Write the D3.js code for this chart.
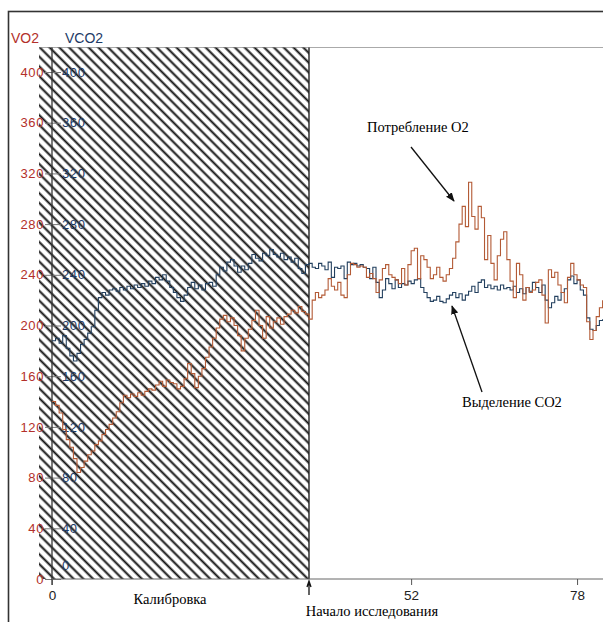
<!DOCTYPE html>
<html>
<head>
<meta charset="utf-8">
<script src="https://cdn.jsdelivr.net/npm/d3@7"></script>
<style>
  body { margin: 0; background: #fff; }
  text { font-family: "Liberation Sans", Arial, sans-serif; }
  .serif { font-family: "Liberation Serif", "Times New Roman", serif; }
</style>
</head>
<body>
<div id="chart"></div>
<script>
// sample step of the recording (minutes)
const step = 0.5;
const yTicks = [0, 40, 80, 120, 160, 200, 240, 280, 320, 360, 400];
const xTicks = [0, 52, 78];
const studyStart = 36;

// VO2, from 0 to 82 every 0.5
const vo2 = [
  140,137,131,118,110,104,95,84,88,93,
  98,101,106,109,114,118,122,127,132,139,
  145,143,146,144,147,145,148,150,149,153,
  156,152,157,155,154,150,152,158,170,162,
  151,160,166,175,183,190,198,205,208,203,
  206,200,192,180,190,197,204,212,200,190,
  207,198,203,206,201,207,209,212,210,215,
  211,209,205,
  220,226,222,224,228,237,231,228,234,224,
  222,240,249,248,246,247,246,238,241,237,
  226,236,245,248,240,238,236,233,245,232,
  248,259,261,237,255,252,246,237,240,246,
  238,235,240,245,253,266,280,294,278,313,
  286,276,294,285,252,271,249,236,255,268,
  274,252,235,222,249,240,220,230,226,228,
  234,236,224,202,244,238,242,232,226,218,
  238,249,240,236,232,230,203,189,196,207,
  214,220
];

// VCO2, same sampling
const vco2 = [
  188,190,186,192,182,176,172,178,185,189,
  194,199,212,222,226,224,228,229,227,230,
  228,231,229,232,230,233,231,235,233,238,
  236,240,235,230,226,222,219,224,230,234,
  229,232,228,233,234,231,240,246,243,250,
  252,247,242,247,244,249,256,253,251,257,
  255,260,256,254,257,252,254,250,253,245,
  241,248,249,
  246,245,249,247,244,250,238,246,245,247,
  237,250,248,249,247,248,246,245,237,246,
  234,222,228,237,233,229,236,230,233,232,
  235,233,236,237,230,226,222,219,220,223,
  219,218,221,224,226,222,225,220,224,227,
  231,226,234,236,230,232,229,231,228,232,
  229,230,228,231,226,229,225,230,227,234,
  230,226,232,220,214,218,223,220,226,229,
  236,239,233,236,228,224,206,197,196,200,
  204,205
];

const times = vo2.map((d, i) => i * step);

const width = 603, height = 622;
const svg = d3.select("#chart")
  .append("svg")
  .attr("width", width)
  .attr("height", height);

// calibration part is drawn wider than the study part
const x = d3.scaleLinear()
  .domain([0, studyStart, 82])
  .range([52, 309, 602.6]);
const y = d3.scaleLinear()
  .domain([0, 400])
  .range([579, 72]);

const plotTop = 47.5, plotLeft = 39;

// hatch pattern
const defs = svg.append("defs");
const pat = defs.append("pattern")
  .attr("id", "hatch")
  .attr("patternUnits", "userSpaceOnUse")
  .attr("width", 6.9)
  .attr("height", 10)
  .attr("patternTransform", "rotate(-45)");
pat.append("line")
  .attr("x1", 1.5).attr("y1", -1)
  .attr("x2", 1.5).attr("y2", 11)
  .attr("stroke", "#111")
  .attr("stroke-width", 2);

// outer frame
svg.append("rect")
  .attr("x", 8.5).attr("y", 11.5)
  .attr("width", 700).attr("height", 700)
  .attr("fill", "none")
  .attr("stroke", "#333")
  .attr("stroke-width", 1.6);

// top border of the plot
svg.append("line")
  .attr("x1", plotLeft).attr("x2", width)
  .attr("y1", plotTop).attr("y2", plotTop)
  .attr("stroke", "#aaa")
  .attr("stroke-width", 1.2);

// calibration area
svg.append("rect")
  .attr("x", plotLeft).attr("y", plotTop)
  .attr("width", x(studyStart) - plotLeft)
  .attr("height", y(0) - plotTop)
  .attr("fill", "url(#hatch)");
svg.append("line")
  .attr("x1", x(studyStart)).attr("x2", x(studyStart))
  .attr("y1", plotTop).attr("y2", y(0))
  .attr("stroke", "#222")
  .attr("stroke-width", 1.4);

// y axes: VO2 labels on the left, VCO2 on the right of the same line
const yLeft = svg.append("g")
  .attr("transform", `translate(${x(0)},0)`)
  .call(d3.axisLeft(y).tickValues(yTicks).tickSize(7).tickPadding(1));
yLeft.select(".domain").remove();
yLeft.selectAll(".tick line").attr("stroke", "#777");
yLeft.selectAll(".tick text")
  .attr("fill", "#b3302a")
  .style("font-size", "13px")
  .style("letter-spacing", "0.6px");

const yRight = svg.append("g")
  .attr("transform", `translate(${x(0)},0)`)
  .call(d3.axisRight(y).tickValues(yTicks).tickSize(9).tickPadding(1));
yRight.select(".domain").remove();
yRight.selectAll(".tick line").attr("stroke", "#777");
yRight.selectAll(".tick text")
  .attr("fill", "#1d3a66")
  .style("font-size", "13px")
  .style("letter-spacing", "0.6px")
  .attr("dy", d => d === 0 ? "-0.75em" : "0.32em");

svg.append("line")
  .attr("x1", x(0)).attr("x2", x(0))
  .attr("y1", plotTop).attr("y2", y(0) + 6)
  .attr("stroke", "#333")
  .attr("stroke-width", 1.3);

svg.append("text").text("VO2")
  .attr("x", 11).attr("y", 43)
  .attr("fill", "#b3302a")
  .style("font-size", "14px");
svg.append("text").text("VCO2")
  .attr("x", 65).attr("y", 43)
  .attr("fill", "#1d3a66")
  .style("font-size", "14px");

// x axis
const xAxis = svg.append("g")
  .attr("transform", `translate(0,${y(0)})`)
  .call(d3.axisBottom(x).tickValues(xTicks).tickSize(6).tickPadding(5));
xAxis.select(".domain").attr("stroke", "#666").attr("d", `M${x(0)},0H${width}`);
xAxis.selectAll(".tick line").attr("stroke", "#555");
xAxis.selectAll(".tick text")
  .attr("fill", "#222")
  .style("font-size", "13.5px");

// arrow marking the start of the study
svg.append("path")
  .attr("d", `M${x(studyStart)},595V582M${x(studyStart) - 2},587L${x(studyStart)},581L${x(studyStart) + 2},587`)
  .attr("fill", "none")
  .attr("stroke", "#111")
  .attr("stroke-width", 1.3);

svg.append("text").attr("class", "serif").text("Калибровка")
  .attr("x", 170).attr("y", 604)
  .attr("text-anchor", "middle")
  .style("font-size", "14.5px");
svg.append("text").attr("class", "serif").text("Начало исследования")
  .attr("x", 372).attr("y", 616)
  .attr("text-anchor", "middle")
  .style("font-size", "14.5px");

// the two lines
const line = series => d3.line()
  .curve(d3.curveStepAfter)
  .x((d, i) => x(times[i]))
  .y(d => y(d))(series);

svg.append("path")
  .attr("d", line(vco2))
  .attr("fill", "none")
  .attr("stroke", "#23405f")
  .attr("stroke-width", 1.1);

svg.append("path")
  .attr("d", line(vo2))
  .attr("fill", "none")
  .attr("stroke", "#b35a35")
  .attr("stroke-width", 1.1);

// annotations
defs.append("marker")
  .attr("id", "head")
  .attr("viewBox", "0 0 10 10")
  .attr("refX", 9).attr("refY", 5)
  .attr("markerWidth", 7).attr("markerHeight", 7)
  .attr("orient", "auto")
  .append("path")
  .attr("d", "M0,1L10,5L0,9Z")
  .attr("fill", "#111");

svg.append("text").attr("class", "serif").text("Потребление O2")
  .attr("x", 367).attr("y", 132)
  .style("font-size", "14.5px");
svg.append("line")
  .attr("x1", 411).attr("y1", 147)
  .attr("x2", 454).attr("y2", 201)
  .attr("stroke", "#111")
  .attr("stroke-width", 1.3)
  .attr("marker-end", "url(#head)");

svg.append("text").attr("class", "serif").text("Выделение CO2")
  .attr("x", 462).attr("y", 407)
  .style("font-size", "14.5px");
svg.append("line")
  .attr("x1", 482).attr("y1", 392)
  .attr("x2", 452).attr("y2", 306)
  .attr("stroke", "#111")
  .attr("stroke-width", 1.3)
  .attr("marker-end", "url(#head)");
</script>
</body>
</html>
